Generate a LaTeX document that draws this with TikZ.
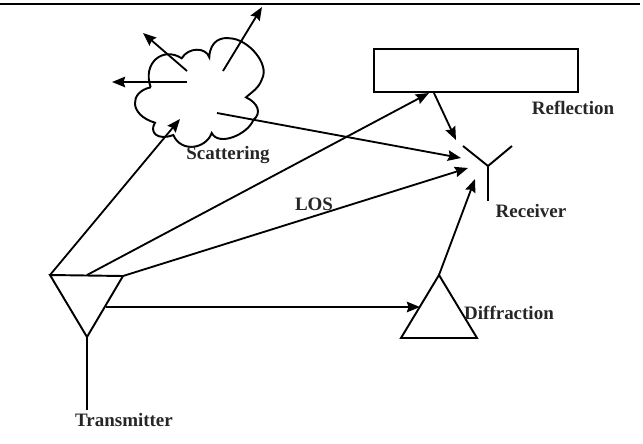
\documentclass[tikz,border=0pt]{standalone}
\usepackage{fontspec}
\setmainfont{Liberation Serif}
\usetikzlibrary{arrows.meta}
\tikzset{
  ray/.style={black,line width=1.05pt,-{Stealth[length=7.5pt,width=6pt,inset=1pt]}},
  part/.style={black,line width=1.1pt,line join=miter},
  lbl/.style={inner sep=0pt,font=\fontsize{10.8}{12}\selectfont\bfseries,text=black!85}
}
\begin{document}
\begin{tikzpicture}[scale=0.2]
\useasboundingbox (0,0) rectangle (64.3,-44.3);
% rule at the top
\coordinate (ruleL) at (0,-0.4);
\coordinate (ruleR) at (64,-0.4);
\draw [black,line width=1.2pt] (ruleL) -- (ruleR);
% transmitter
\coordinate (txL) at (5,-27.5);
\coordinate (txR) at (12.3,-27.6);
\coordinate (txB) at (8.7,-33.7);
\coordinate (txS) at (8.7,-41);
\coordinate (txT) at (8.7,-27.5);
\coordinate (txD) at (10.6,-30.7);
\draw [part] (txL) -- (txR) -- (txB) -- cycle;
\draw [part] (txB) -- (txS);
% receiver
\coordinate (rxC) at (48.8,-16.6);
\coordinate (rxL) at (46.3,-14.6);
\coordinate (rxR) at (51.2,-14.6);
\coordinate (rxS) at (48.8,-20.1);
\draw [part] (rxL) -- (rxC) -- (rxR);
\draw [part] (rxC) -- (rxS);
% reflecting wall
\node [draw,part,minimum width=4.08cm,minimum height=0.86cm,inner sep=0pt] (wall) at (47.6,-7.05) {};
\coordinate (wallIn) at (42.9,-9.3);
\coordinate (wallOut) at (43.4,-9.3);
% diffraction wedge
\coordinate (wedgeT) at (43.9,-27.5);
\coordinate (wedgeL) at (40.1,-33.8);
\coordinate (wedgeR) at (47.7,-33.8);
\coordinate (wedgeIn) at (42,-30.7);
\draw [part] (wedgeT) -- (wedgeL) -- (wedgeR) -- cycle;
% cloud
\draw [part]
  (15.07,-8.73) .. controls (14.2,-6.3) and (16.3,-4.6) .. (18.17,-5.83)
  .. controls (18.83,-4.7) and (20.6,-4.7) .. (20.93,-5.73)
  .. controls (21,-4) and (22.2,-3.7) .. (23,-3.83)
  .. controls (24.8,-3.9) and (27,-6.4) .. (26.2,-7.9)
  .. controls (25.9,-8.8) and (25.2,-9.2) .. (24.6,-9.73)
  .. controls (25.8,-10.3) and (26.2,-11.3) .. (25.33,-12)
  .. controls (24.8,-13.4) and (21.9,-14.7) .. (21.17,-13.3)
  .. controls (20.6,-14.9) and (18.1,-15.3) .. (17.33,-13.5)
  .. controls (15.7,-14.1) and (14.9,-13.2) .. (15.5,-12.27)
  .. controls (12.9,-11.5) and (12.9,-9.2) .. (15.07,-8.73);
\coordinate (scA) at (18.7,-8.2);
\coordinate (scAe) at (11.2,-8.2);
\coordinate (scB) at (18.7,-7.1);
\coordinate (scBe) at (14.3,-3.3);
\coordinate (scC) at (22.3,-7.1);
\coordinate (scCe) at (26.2,-0.7);
\coordinate (scIn) at (18,-11.9);
\coordinate (scOut) at (21.7,-11.3);
\coordinate (rxA) at (46.1,-15.8);
\coordinate (rxB) at (46.8,-16.8);
\coordinate (rxD) at (47.5,-17.9);
\coordinate (rxE) at (45.6,-14);
\draw [ray] (scA) -- (scAe);
\draw [ray] (scB) -- (scBe);
\draw [ray] (scC) -- (scCe);
\draw [ray] (txL) -- (scIn);
\draw [ray] (scOut) -- (rxA);
\draw [ray] (txT) -- (wallIn);
\draw [ray] (wallOut) -- (rxE);
\draw [ray] (txR) -- (rxB);
\draw [ray] (txD) -- (wedgeIn);
\draw [ray] (wedgeT) -- (rxD);
\node [lbl] (scattering) at (22.8,-15.5) {Scattering};
\node [lbl] (reflection) at (57.3,-10.8) {Reflection};
\node [lbl] (receiver) at (53.1,-21.1) {Receiver};
\node [lbl] (los) at (31.4,-20.4) {LOS};
\node [lbl] (diffraction) at (50.9,-31.3) {Diffraction};
\node [lbl] (transmitter) at (12.4,-42) {Transmitter};
\end{tikzpicture}
\end{document}
